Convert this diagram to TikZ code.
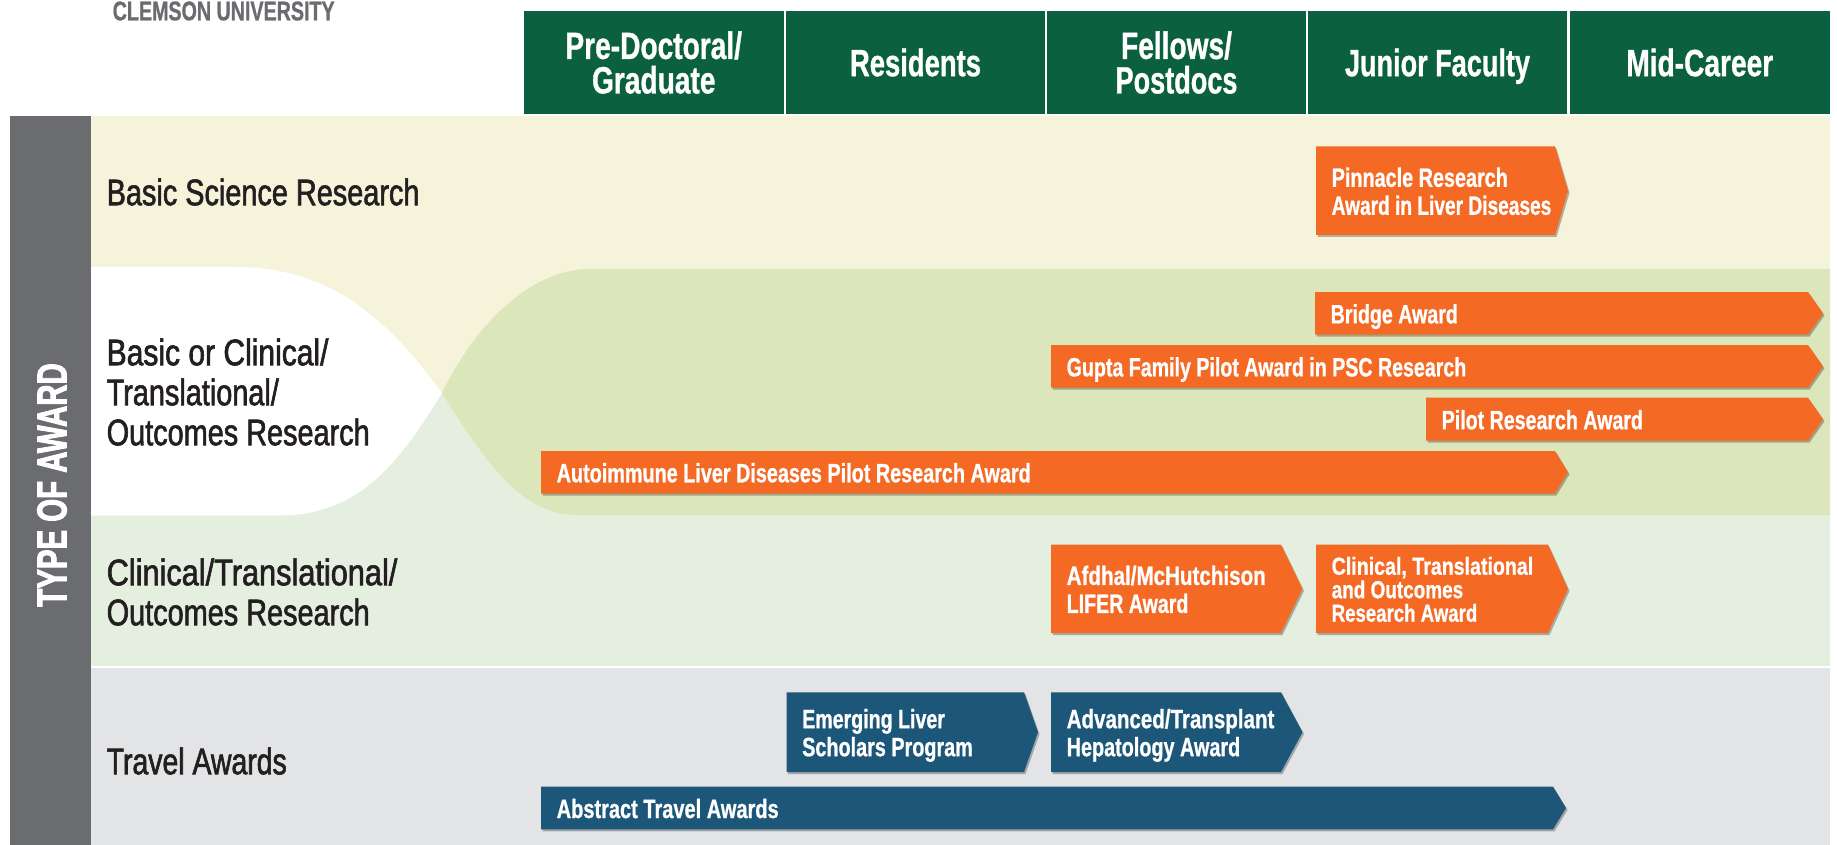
\documentclass[tikz,border=0pt]{standalone}
\usepackage{fontspec}
\setmainfont{Liberation Sans}
\newfontfamily\condb[FakeStretch=0.74,FakeBold=0.8,UprightFont={* Bold}]{Liberation Sans}
\newfontfamily\condbs[FakeStretch=0.80,FakeBold=0.8,UprightFont={* Bold}]{Liberation Sans}
\newfontfamily\condv[FakeStretch=0.70,FakeBold=2,UprightFont={* Bold}]{Liberation Sans}
\newfontfamily\condr[FakeStretch=0.78,FakeBold=1.6]{Liberation Sans}
\definecolor{bandyellow}{HTML}{F5F3DA}
\definecolor{banddark}{HTML}{DCE6BB}
\definecolor{bandgreen}{HTML}{E4EFDF}
\definecolor{bandgrey}{HTML}{E3E4E6}
\definecolor{sidebar}{HTML}{6B6C70}
\definecolor{headgreen}{HTML}{0B6040}
\definecolor{awardorange}{HTML}{F46A25}
\definecolor{awardblue}{HTML}{1C5679}
\definecolor{inkdark}{HTML}{231F20}
\newcommand{\lt}{\rule{0pt}{1em}}
\newcommand{\lb}{\rule[-.28em]{0pt}{.28em}}
\newcommand{\sx}[2]{\scalebox{#1}[1]{#2}}
\tikzset{
  headcell/.style={fill=headgreen,text=white,inner sep=0pt,align=center,
    font=\condb\fontsize{38}{34.5}\selectfont},
  rowlabel/.style={anchor=west,inner sep=0pt,align=left,text=inkdark,
    font=\condr\fontsize{37}{40}\selectfont},
  awardtext/.style={anchor=west,inner sep=0pt,align=left,text=white,
    font=\condb\fontsize{26.5}{28}\selectfont},
  awardsmall/.style={awardtext,font=\condbs\fontsize{24.5}{23.5}\selectfont},
}
% name, x-left, x-shoulder, x-tip, y-top, y-bottom, colour, text style, text
\newcommand{\award}[9]{%
  \fill[black,opacity=0.28] (#2+1.5,#5+2) -- (#3+1.5,#5+2) -- (#4+1.5,{(#5+#6)/2+2}) -- (#3+1.5,#6+2) -- (#2+1.5,#6+2) -- cycle;
  \fill[#7] (#2,#5) -- (#3,#5) -- (#4,{(#5+#6)/2}) -- (#3,#6) -- (#2,#6) -- cycle;
  \node[#8] (#1) at (#2+15.5,{(#5+#6)/2+0.5}) {#9};
}
\begin{document}
\begin{tikzpicture}[x=1pt,y=-1pt]
\useasboundingbox (0,0) rectangle (1837,845);
\fill[white] (0,0) rectangle (1837,845);
% bands
\fill[bandyellow] (91,116) rectangle (1830,393);
\fill[bandgreen] (91,393) rectangle (1830,666);
\fill[bandgrey] (91,668) rectangle (1830,845);
\fill[white] (91,267) -- (235,267) .. controls (330,267) and (387,318) .. (442,393)
  .. controls (395,470) and (355,515.5) .. (278,515.5) -- (91,515.5) -- cycle;
\fill[banddark] (1830,269) -- (590,269) .. controls (530,269) and (475,325) .. (442,393)
  .. controls (490,470) and (525,515) .. (577,515) -- (1830,515) -- cycle;
\fill[sidebar] (10,116) rectangle (91,845);
\node[rotate=90,text=white,inner sep=0pt,font=\condv\fontsize{42}{42}\selectfont] (typeaward) at (52,485) {TYPE OF AWARD};
\node[anchor=west,inner sep=0pt,text=sidebar,font=\condb\fontsize{27}{27}\selectfont] (clemson) at (112.5,11) {\sx{0.985}{CLEMSON UNIVERSITY}};
% header
\node[headcell,minimum width=259.5pt,minimum height=103pt] (h1) at (653.75,62.5) {\lt Pre-Doctoral/\\Graduate\lb};
\node[headcell,minimum width=259pt,minimum height=103pt] (h2) at (915.5,62.5) {\lt \sx{0.975}{Residents}\lb};
\node[headcell,minimum width=259pt,minimum height=103pt] (h3) at (1176.5,62.5) {\lt Fellows/\\\sx{0.963}{Postdocs}\lb};
\node[headcell,minimum width=259pt,minimum height=103pt] (h4) at (1437.5,62.5) {\lt \sx{0.963}{Junior Faculty}\lb};
\node[headcell,minimum width=260.5pt,minimum height=103pt] (h5) at (1699.75,62.5) {\lt Mid-Career\lb};
% row labels
\node[rowlabel] (r1) at (106.5,192) {Basic Science Research};
\node[rowlabel] (r2) at (106.5,392) {\sx{1.04}{Basic or Clinical/}\\Translational/\\Outcomes Research};
\node[rowlabel] (r3) at (106.5,592) {\sx{1.064}{Clinical/Translational/}\\Outcomes Research};
\node[rowlabel] (r4) at (106.5,761) {\sx{0.985}{Travel Awards}};
% awards
\award{a1}{1316}{1555}{1568}{146.5}{235}{awardorange}{awardtext}{\lt \sx{1.01}{Pinnacle Research}\\\sx{0.975}{Award in Liver Diseases}\lb}
\award{a2}{1315}{1808}{1823}{292}{334.7}{awardorange}{awardtext}{\lt Bridge Award\lb}
\award{a3}{1051}{1808}{1823}{345}{387.7}{awardorange}{awardtext}{\lt Gupta Family Pilot Award in PSC Research\lb}
\award{a4}{1426}{1808}{1823}{397.7}{440.7}{awardorange}{awardtext}{\lt Pilot Research Award\lb}
\award{a5}{541}{1555}{1568}{451}{493.5}{awardorange}{awardtext}{\lt \sx{1.01}{Autoimmune Liver Diseases Pilot Research Award}\lb}
\award{a6}{1051}{1281}{1302.5}{544.7}{633}{awardorange}{awardtext}{\lt \sx{1.05}{Afdhal/McHutchison}\\LIFER Award\lb}
\award{a7}{1316}{1548}{1568}{544.7}{633}{awardorange}{awardsmall}{\lt Clinical, Translational\\\sx{0.966}{and Outcomes}\\\sx{0.95}{Research Award}\lb}
\award{a8}{786.5}{1024}{1038}{692.3}{772}{awardblue}{awardtext}{\lt Emerging Liver\\\sx{1.01}{Scholars Program}\lb}
\award{a9}{1051}{1281}{1302.5}{692.3}{772}{awardblue}{awardtext}{\lt \sx{1.047}{Advanced/Transplant}\\\sx{1.01}{Hepatology Award}\lb}
\award{a10}{541}{1553}{1566}{786.7}{829.3}{awardblue}{awardtext}{\lt \sx{1.02}{Abstract Travel Awards}\lb}
\end{tikzpicture}
\end{document}
